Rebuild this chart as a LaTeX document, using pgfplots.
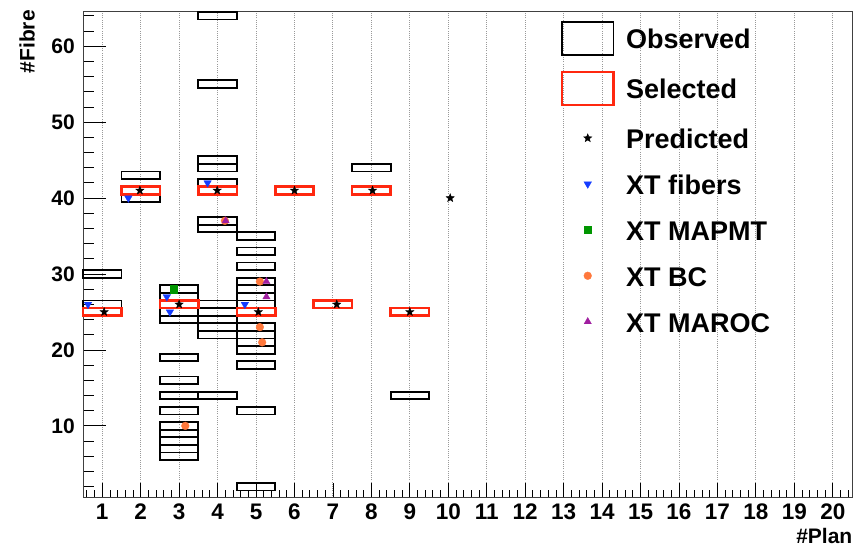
\documentclass[border=0pt]{standalone}
\usepackage{fontspec}
\setmainfont{Liberation Sans}
\usepackage{pgfplots}
\pgfplotsset{compat=1.18}

\definecolor{selred}{RGB}{255,40,15}
\definecolor{xtblue}{RGB}{20,60,255}
\definecolor{xtgreen}{RGB}{0,150,0}
\definecolor{xtorange}{RGB}{255,120,60}
\definecolor{xtpurple}{RGB}{160,30,160}

% one hit = 1 plan x 1 fibre (38.45bp x 7.594bp on this axis)
\pgfdeclareplotmark{hitbox}{%
  \pgfpathrectangle{\pgfqpoint{-19.225bp}{-3.797bp}}{\pgfqpoint{38.45bp}{7.594bp}}%
  \pgfusepathqstroke}
\pgfdeclareplotmark{fstar}{%
  \pgfpathmoveto{\pgfpointpolar{90}{\pgfplotmarksize}}%
  \pgfpathlineto{\pgfpointpolar{126}{0.42\pgfplotmarksize}}%
  \pgfpathlineto{\pgfpointpolar{162}{\pgfplotmarksize}}%
  \pgfpathlineto{\pgfpointpolar{198}{0.42\pgfplotmarksize}}%
  \pgfpathlineto{\pgfpointpolar{234}{\pgfplotmarksize}}%
  \pgfpathlineto{\pgfpointpolar{270}{0.42\pgfplotmarksize}}%
  \pgfpathlineto{\pgfpointpolar{306}{\pgfplotmarksize}}%
  \pgfpathlineto{\pgfpointpolar{342}{0.42\pgfplotmarksize}}%
  \pgfpathlineto{\pgfpointpolar{18}{\pgfplotmarksize}}%
  \pgfpathlineto{\pgfpointpolar{54}{0.42\pgfplotmarksize}}%
  \pgfpathclose\pgfusepathqfillstroke}

\tikzset{
  mstar/.style={mark=fstar, mark size=4.3bp, mark options={draw=black, fill=black, line width=0.4bp}},
  mfib/.style={mark=triangle*, mark size=4.4bp, mark options={rotate=180, draw=xtblue, fill=xtblue, line width=0.3bp}},
  mpmt/.style={mark=square*, mark size=3.6bp, mark options={draw=xtgreen, fill=xtgreen, line width=0.3bp}},
  mbc/.style={mark=*, mark size=3.9bp, mark options={draw=xtorange, fill=xtorange, line width=0.3bp}},
  mroc/.style={mark=triangle*, mark size=4.2bp, mark options={draw=xtpurple, fill=xtpurple, line width=0.3bp}},
}

\pgfplotstableread{
x y
1 25
1 26
1 30
2 40
2 41
2 43
3 6
3 7
3 8
3 9
3 10
3 12
3 14
3 16
3 19
3 24
3 25
3 26
3 27
3 28
4 14
4 22
4 23
4 24
4 25
4 26
4 36
4 37
4 41
4 42
4 44
4 45
4 55
4 64
5 2
5 12
5 18
5 20
5 21
5 22
5 23
5 25
5 26
5 27
5 28
5 29
5 31
5 33
5 35
6 41
7 26
8 41
8 44
9 14
9 25
}\observed

\pgfplotstableread{
x y
1 25
2 41
3 26
4 41
5 25
6 41
7 26
8 41
9 25
}\selected

\pgfplotstableread{
x y
1.05 25
1.98 41
3.00 26
3.99 41
5.06 25
6.00 41
7.10 26
8.03 41
9.00 25
10.05 40
}\predicted

\pgfplotstableread{
x y
0.63 26
1.68 40
2.68 27
2.76 25
3.74 42
4.71 26
}\xtfibers

\pgfplotstableread{
x y
2.86 28
}\xtmapmt

\pgfplotstableread{
x y
3.16 10
4.19 37
5.10 29
5.10 23
5.16 21
}\xtbc

\pgfplotstableread{
x y
4.21 37
5.27 29
5.27 27
}\xtmaroc

\begin{document}
\begin{tikzpicture}
\useasboundingbox (0,0) rectangle (854bp,546bp);
\begin{axis}[
  at={(83bp,48bp)}, anchor=south west,
  scale only axis, width=769bp, height=486bp,
  xmin=0.5, xmax=20.5, ymin=0.5, ymax=64.5,
  xtick={1,...,20}, ytick={10,20,...,60},
  minor xtick={0.6,0.8,...,20.41},
  minor ytick={2,4,...,64},
  tick pos=left, tick align=inside,
  axis line style={black!75, line width=1bp},
  tick style={black, line width=0.8bp},
  xtick style={/pgfplots/major tick length=15bp, /pgfplots/minor tick length=7.5bp},
  ytick style={/pgfplots/major tick length=23bp, /pgfplots/minor tick length=11bp},
  xmajorgrids,
  grid style={gray!80, line width=0.9bp, dash pattern=on 1bp off 1.2bp},
  /pgf/number format/assume math mode=true,
  xticklabel style={font=\fontsize{22.5bp}{22.5bp}\selectfont\bfseries, anchor=north, inner sep=0pt, yshift=-5.5bp},
  yticklabel style={font=\fontsize{21bp}{21bp}\selectfont\bfseries, anchor=east, inner sep=0pt, xshift=-8bp},
  legend style={at={(rel axis cs:0.6213,0.986)}, anchor=north west,
    draw=none, fill=none, inner sep=0pt, outer sep=0pt,
    row sep=12.4bp, column sep=9.5bp,
    font=\fontsize{27bp}{30bp}\selectfont\bfseries,
    cells={anchor=base west, inner sep=0pt, text height=28bp, text depth=7bp}},
]
\addplot[only marks, mark=hitbox, mark options={draw=black, line width=1.8bp},
  legend image code/.code={\draw[black, line width=1.8bp] (0bp,-6.5bp) rectangle (51.6bp,26.5bp);}]
  table {\observed};
\addlegendentry{Observed}
\addplot[only marks, mark=hitbox, mark options={draw=selred, line width=2.6bp},
  legend image code/.code={\draw[selred, line width=2.3bp] (0bp,-6.5bp) rectangle (51.6bp,26.5bp);}]
  table {\selected};
\addlegendentry{Selected}
\addplot[only marks, mstar,
  legend image code/.code={\draw[only marks, mstar] plot coordinates {(25.8bp,10.5bp)};}]
  table {\predicted};
\addlegendentry{Predicted}
\addplot[only marks, mfib,
  legend image code/.code={\draw[only marks, mfib] plot coordinates {(25.8bp,10.5bp)};}]
  table {\xtfibers};
\addlegendentry{XT fibers}
\addplot[only marks, mpmt,
  legend image code/.code={\draw[only marks, mpmt] plot coordinates {(25.8bp,10.5bp)};}]
  table {\xtmapmt};
\addlegendentry{XT MAPMT}
\addplot[only marks, mbc,
  legend image code/.code={\draw[only marks, mbc] plot coordinates {(25.8bp,10.5bp)};}]
  table {\xtbc};
\addlegendentry{XT BC}
\addplot[only marks, mroc,
  legend image code/.code={\draw[only marks, mroc] plot coordinates {(25.8bp,10.5bp)};}]
  table {\xtmaroc};
\addlegendentry{XT MAROC}
\end{axis}
\node[rotate=90, anchor=south east, inner sep=0pt, font=\fontsize{21bp}{21bp}\selectfont\bfseries] at (35bp,536bp) {\#Fibre};
\node[anchor=base east, inner sep=0pt, font=\fontsize{21bp}{21bp}\selectfont\bfseries] at (852.5bp,3bp) {\#Plan};
\end{tikzpicture}
\end{document}
